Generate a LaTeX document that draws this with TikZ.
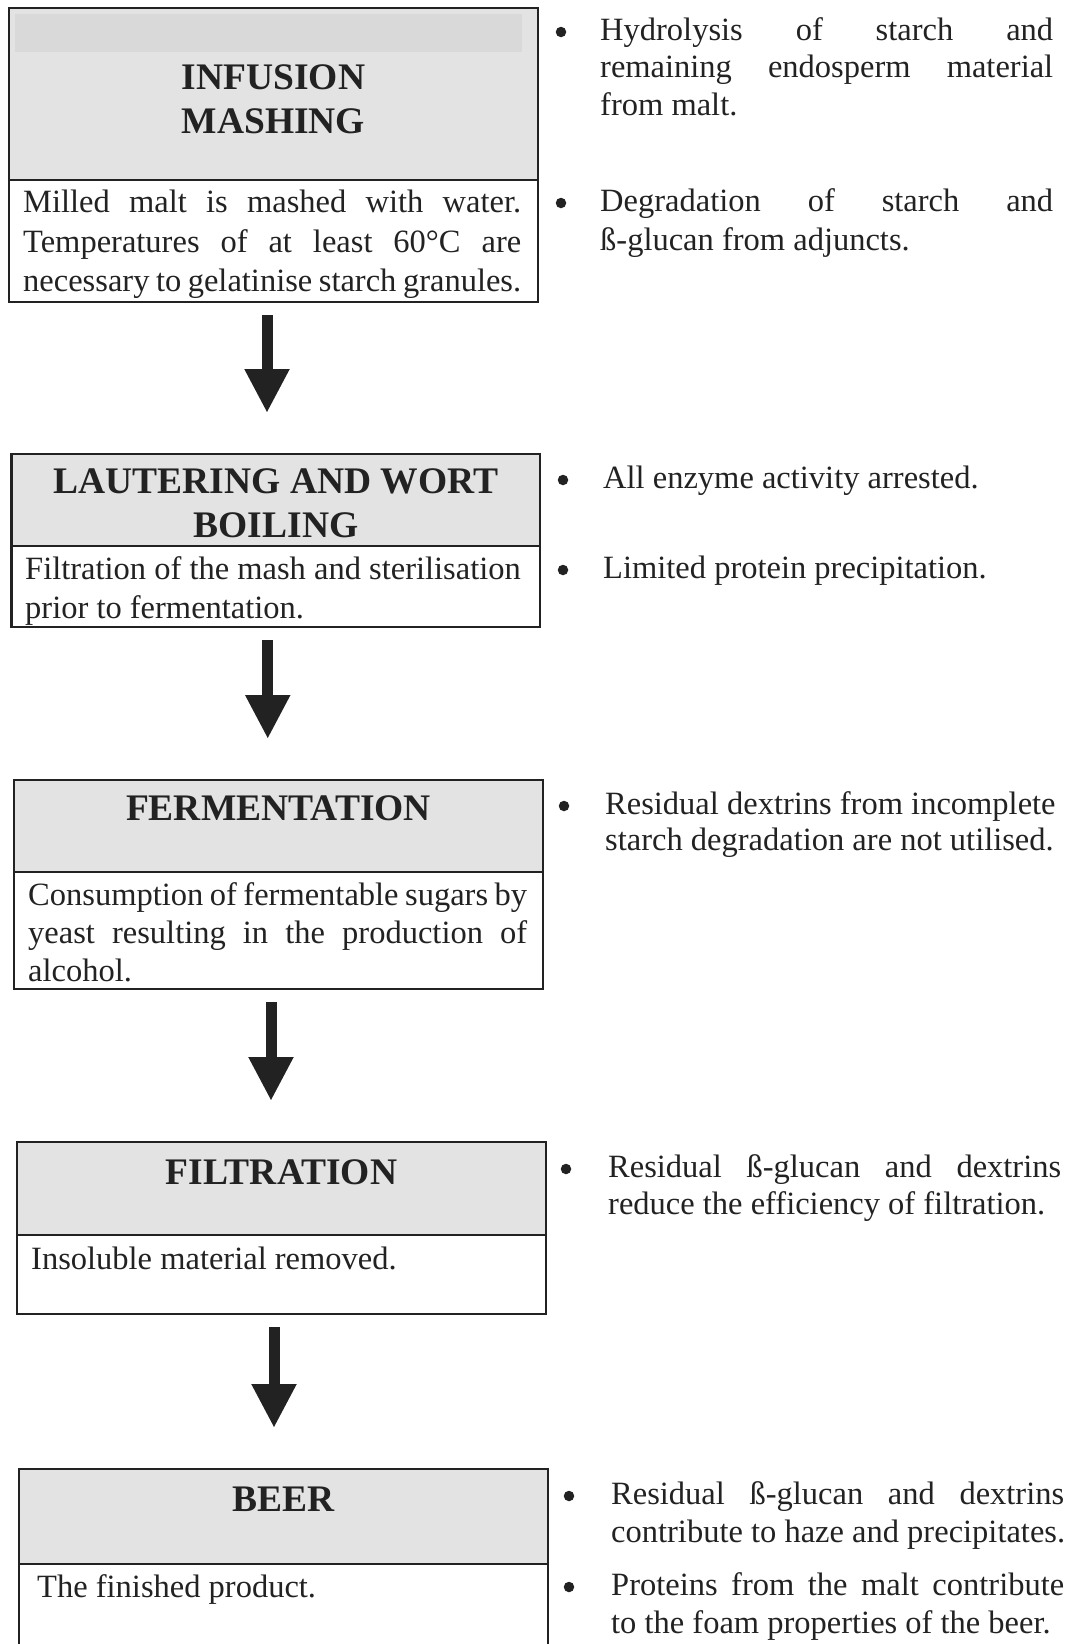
\documentclass[tikz,border=0pt]{standalone}
\usepackage{fontspec}
\setmainfont{Liberation Serif}
\usetikzlibrary{arrows.meta}
\definecolor{hdrgray}{HTML}{E3E3E3}
\definecolor{bandgray}{HTML}{D9D9D9}
\definecolor{ink}{HTML}{222222}
\newcommand\mybody{\fontsize{32.5}{37}\selectfont}
\newcommand\mytitle{\fontsize{37.5}{44}\selectfont\bfseries}
\tikzset{
  frame/.style={draw=ink, line width=2.8pt, inner sep=0pt, outer sep=0pt, anchor=north west},
  headbox/.style={frame, fill=hdrgray},
  bodybox/.style={frame, fill=white},
  ttl/.style={font=\mytitle, text=ink, anchor=base, inner sep=0pt},
  txt/.style={font=\mybody, text=ink, anchor=base west, inner sep=0pt},
  dot/.style={circle, fill=ink, minimum size=10.5pt, inner sep=0pt},
  flow/.style={line width=11pt, draw=ink, -{Triangle[width=42pt,length=44pt]}, shorten <=13pt, shorten >=41pt}
}
\begin{document}
\begin{tikzpicture}[x=1pt,y=-1pt]
\path[use as bounding box] (0,0) rectangle (1067,1644);
\clip (0,0) rectangle (1067,1644);

% ---- Step 1
\node[headbox, minimum width=529pt, minimum height=172pt] (h1) at (9,8) {};
\fill[bandgray] (15,14) rectangle (522,52);
\node[bodybox, minimum width=529pt, minimum height=122pt] (d1) at (9,180) {};
\node[ttl] (t1a) at (273.5,89) {INFUSION};
\node[ttl] (t1b) at (273.5,133) {MASHING};
\node[txt] (l1a) at (23,212) {\makebox[498pt][s]{Milled malt is mashed with water.}};
\node[txt] (l1b) at (23,252) {\makebox[498pt][s]{Temperatures of at least 60°C are}};
\node[txt] (l1c) at (23,291) {\makebox[498pt][s]{necessary to gelatinise starch granules.}};

% ---- Step 2
\node[headbox, minimum width=528.5pt, minimum height=92pt] (h2) at (11.5,454) {};
\node[bodybox, minimum width=528.5pt, minimum height=81pt] (d2) at (11.5,546) {};
\node[ttl] (t2a) at (276,493) {LAUTERING AND WORT};
\node[ttl] (t2b) at (276,537) {BOILING};
\node[txt] (l2a) at (25,579) {Filtration of the mash and sterilisation};
\node[txt] (l2b) at (25,618) {prior to fermentation.};

% ---- Step 3
\node[headbox, minimum width=529pt, minimum height=92pt] (h3) at (14,780) {};
\node[bodybox, minimum width=529pt, minimum height=117pt] (d3) at (14,872) {};
\node[ttl] (t3) at (278.5,820) {FERMENTATION};
\node[txt] (l3a) at (28,905) {\makebox[499pt][s]{Consumption of fermentable sugars by}};
\node[txt] (l3b) at (28,943) {\makebox[499pt][s]{yeast resulting in the production of}};
\node[txt] (l3c) at (28,981) {alcohol.};

% ---- Step 4
\node[headbox, minimum width=529pt, minimum height=93pt] (h4) at (17,1142) {};
\node[bodybox, minimum width=529pt, minimum height=79pt] (d4) at (17,1235) {};
\node[ttl] (t4) at (281.5,1184) {FILTRATION};
\node[txt] (l4a) at (31,1269) {Insoluble material removed.};

% ---- Step 5
\node[headbox, minimum width=529pt, minimum height=95pt] (h5) at (19,1469) {};
\node[bodybox, minimum width=529pt, minimum height=100pt] (d5) at (19,1564) {};
\node[ttl] (t5) at (283.5,1511) {BEER};
\node[txt] (l5a) at (37,1597) {The finished product.};

% ---- Arrows
\draw[flow] ([xshift=-6.5pt]d1.south) -- ([xshift=-6.5pt]d1.south |- h2.north);
\draw[flow] ([xshift=-8pt]d2.south) -- ([xshift=-8pt]d2.south |- h3.north);
\draw[flow] ([xshift=-7.5pt]d3.south) -- ([xshift=-7.5pt]d3.south |- h4.north);
\draw[flow] ([xshift=-7.5pt]d4.south) -- ([xshift=-7.5pt]d4.south |- h5.north);

% ---- Right column
\node[dot] (p1) at (561,32) {};
\node[txt] (r1a) at (600,40) {\makebox[453pt][s]{Hydrolysis of starch and}};
\node[txt] (r1b) at (600,77) {\makebox[453pt][s]{remaining endosperm material}};
\node[txt] (r1c) at (600,115) {from malt.};

\node[dot] (p2) at (561,203) {};
\node[txt] (r2a) at (600,211) {\makebox[453pt][s]{Degradation of starch and}};
\node[txt] (r2b) at (600,250) {ß-glucan from adjuncts.};

\node[dot] (p3) at (563,480) {};
\node[txt] (r3a) at (603,488) {All enzyme activity arrested.};

\node[dot] (p4) at (563,570) {};
\node[txt] (r4a) at (603,578) {Limited protein precipitation.};

\node[dot] (p5) at (564,806) {};
\node[txt] (r5a) at (605,814) {Residual dextrins from incomplete};
\node[txt] (r5b) at (605,850) {starch degradation are not utilised.};

\node[dot] (p6) at (566,1169) {};
\node[txt] (r6a) at (608,1177) {\makebox[453pt][s]{Residual ß-glucan and dextrins}};
\node[txt] (r6b) at (608,1214) {reduce the efficiency of filtration.};

\node[dot] (p7) at (569,1496) {};
\node[txt] (r7a) at (611,1504) {\makebox[453pt][s]{Residual ß-glucan and dextrins}};
\node[txt] (r7b) at (611,1542) {contribute to haze and precipitates.};

\node[dot] (p8) at (569,1587) {};
\node[txt] (r8a) at (611,1595) {\makebox[453pt][s]{Proteins from the malt contribute}};
\node[txt] (r8b) at (611,1633) {to the foam properties of the beer.};
\end{tikzpicture}
\end{document}
